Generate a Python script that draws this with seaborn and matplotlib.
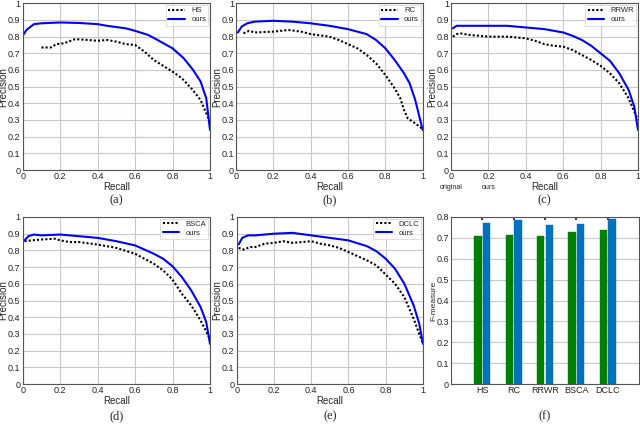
import numpy as np
import pandas as pd
import seaborn as sns
import matplotlib
matplotlib.use('Agg')
import matplotlib.pyplot as plt


# ---- PR curves ----
hs_r = [0.10, 0.15, 0.18, 0.22, 0.28, 0.35, 0.40, 0.45, 0.50, 0.55, 0.60, 0.65, 0.70, 0.75, 0.80, 0.85, 0.90, 0.95, 0.98, 1.00]
hs_p = [0.735, 0.735, 0.755, 0.76, 0.785, 0.78, 0.775, 0.78, 0.77, 0.755, 0.75, 0.71, 0.66, 0.625, 0.59, 0.55, 0.49, 0.42, 0.34, 0.29]
ours_a_r = [0.00, 0.02, 0.06, 0.10, 0.20, 0.30, 0.40, 0.45, 0.55, 0.60, 0.67, 0.72, 0.80, 0.86, 0.91, 0.95, 0.98, 1.00]
ours_a_p = [0.805, 0.84, 0.875, 0.88, 0.885, 0.882, 0.875, 0.865, 0.85, 0.835, 0.81, 0.78, 0.73, 0.67, 0.60, 0.53, 0.43, 0.24]

rc_r = [0.04, 0.07, 0.10, 0.20, 0.28, 0.35, 0.40, 0.50, 0.55, 0.60, 0.65, 0.70, 0.75, 0.80, 0.85, 0.88, 0.90, 0.92, 0.96, 1.00]
rc_p = [0.82, 0.835, 0.825, 0.83, 0.84, 0.83, 0.815, 0.80, 0.78, 0.755, 0.73, 0.69, 0.64, 0.57, 0.49, 0.43, 0.36, 0.31, 0.28, 0.245]
ours_b_r = [0.01, 0.03, 0.06, 0.10, 0.20, 0.30, 0.40, 0.50, 0.60, 0.70, 0.75, 0.80, 0.85, 0.90, 0.93, 0.96, 0.98, 1.00]
ours_b_p = [0.825, 0.86, 0.88, 0.89, 0.895, 0.89, 0.88, 0.865, 0.845, 0.815, 0.78, 0.73, 0.66, 0.58, 0.52, 0.42, 0.33, 0.24]

rrwr_r = [0.01, 0.03, 0.05, 0.10, 0.20, 0.30, 0.40, 0.45, 0.50, 0.55, 0.60, 0.65, 0.70, 0.75, 0.80, 0.85, 0.90, 0.95, 0.98, 1.00]
rrwr_p = [0.80, 0.815, 0.82, 0.81, 0.80, 0.80, 0.79, 0.775, 0.755, 0.745, 0.74, 0.72, 0.69, 0.66, 0.625, 0.58, 0.52, 0.43, 0.35, 0.30]
ours_c_r = [0.01, 0.03, 0.10, 0.20, 0.30, 0.40, 0.50, 0.60, 0.65, 0.70, 0.75, 0.80, 0.85, 0.90, 0.95, 0.98, 1.00]
ours_c_p = [0.85, 0.865, 0.865, 0.865, 0.865, 0.855, 0.845, 0.825, 0.805, 0.78, 0.745, 0.70, 0.655, 0.58, 0.48, 0.38, 0.24]

bsca_r = [0.01, 0.05, 0.10, 0.17, 0.20, 0.25, 0.30, 0.40, 0.50, 0.60, 0.70, 0.75, 0.80, 0.85, 0.90, 0.95, 1.00]
bsca_p = [0.855, 0.86, 0.865, 0.87, 0.86, 0.85, 0.85, 0.835, 0.815, 0.78, 0.72, 0.68, 0.625, 0.54, 0.47, 0.38, 0.27]
ours_d_r = [0.01, 0.03, 0.06, 0.10, 0.20, 0.30, 0.40, 0.50, 0.60, 0.70, 0.75, 0.80, 0.85, 0.90, 0.95, 0.98, 1.00]
ours_d_p = [0.86, 0.885, 0.895, 0.89, 0.895, 0.885, 0.875, 0.855, 0.83, 0.78, 0.75, 0.705, 0.64, 0.56, 0.46, 0.37, 0.24]

dclc_r = [0.01, 0.04, 0.07, 0.10, 0.15, 0.20, 0.25, 0.30, 0.40, 0.45, 0.50, 0.55, 0.60, 0.65, 0.70, 0.75, 0.80, 0.85, 0.90, 0.95, 1.00]
dclc_p = [0.815, 0.805, 0.82, 0.82, 0.84, 0.845, 0.855, 0.845, 0.855, 0.84, 0.83, 0.815, 0.79, 0.765, 0.74, 0.71, 0.655, 0.60, 0.52, 0.39, 0.24]
ours_e_r = [0.01, 0.03, 0.06, 0.10, 0.20, 0.30, 0.40, 0.50, 0.60, 0.70, 0.75, 0.80, 0.85, 0.90, 0.95, 0.98, 1.00]
ours_e_p = [0.835, 0.875, 0.89, 0.89, 0.90, 0.905, 0.89, 0.875, 0.86, 0.825, 0.795, 0.75, 0.69, 0.60, 0.47, 0.36, 0.24]

# ---- F-measure bars ----
methods = ['HS', 'RC', 'RRWR', 'BSCA', 'DCLC']
f_original = [0.71, 0.715, 0.71, 0.73, 0.737]
f_ours = [0.77, 0.785, 0.76, 0.765, 0.79]

captions = ['(a)', '(b)', '(c)', '(d)', '(e)', '(f)']


def pr_panel(ax, base_r, base_p, base_name, ours_r, ours_p):
    df = pd.concat([
        pd.DataFrame({'Recall': base_r, 'Precision': base_p, 'method': base_name}),
        pd.DataFrame({'Recall': ours_r, 'Precision': ours_p, 'method': 'ours'}),
    ])
    sns.lineplot(data=df, x='Recall', y='Precision', hue='method', style='method',
                 palette={base_name: 'black', 'ours': '#0000ff'},
                 dashes={base_name: (1, 1), 'ours': ''},
                 estimator=None, sort=False, lw=1.5, ax=ax)
    ax.set_xlim(0, 1)
    ax.set_ylim(0, 1)
    ax.set_xticks(np.arange(0, 1.01, 0.2))
    ax.set_xticklabels(['0', '0.2', '0.4', '0.6', '0.8', '1'])
    ax.set_yticks(np.arange(0, 1.01, 0.1))
    ax.set_yticklabels(['0'] + ['%.1f' % v for v in np.arange(0.1, 0.95, 0.1)] + ['1'])
    ax.grid(True, color='#c8c8c8', lw=0.8)
    leg = ax.legend(loc='upper right', fontsize=5.5, frameon=True, fancybox=False,
                    handlelength=2.2, borderpad=0.3, labelspacing=0.2, borderaxespad=0.2)
    leg.get_frame().set_edgecolor('#d0d0d0')
    leg.get_frame().set_linewidth(0.6)


def style_axis(ax):
    ax.tick_params(direction='in', length=2.5, labelsize=6.5, pad=1.5, colors='#222222')
    ax.xaxis.label.set_size(7)
    ax.yaxis.label.set_size(7)
    ax.xaxis.labelpad = 1
    ax.yaxis.set_label_coords(-0.075, 0.5)
    for s in ax.spines.values():
        s.set_color('#555555')
        s.set_linewidth(0.8)


def main():
    sns.set_theme(style='white')
    plt.rcParams['font.family'] = ['Liberation Sans', 'DejaVu Sans']

    fig = plt.figure(figsize=(6.4, 4.24), dpi=100)

    W, H = 640.0, 424.0
    boxes = [
        (22.7, 3.3, 210, 170), (236, 3.3, 422.7, 170), (451, 3.3, 638, 170),
        (22.7, 217, 210, 384), (236.7, 217, 423, 384), (451, 217, 639, 384),
    ]
    axes = []
    for (x0, y0, x1, y1) in boxes:
        axes.append(fig.add_axes([x0 / W, 1 - y1 / H, (x1 - x0) / W, (y1 - y0) / H]))

    pr_panel(axes[0], hs_r, hs_p, 'HS', ours_a_r, ours_a_p)
    pr_panel(axes[1], rc_r, rc_p, 'RC', ours_b_r, ours_b_p)
    pr_panel(axes[2], rrwr_r, rrwr_p, 'RRWR', ours_c_r, ours_c_p)
    pr_panel(axes[3], bsca_r, bsca_p, 'BSCA', ours_d_r, ours_d_p)
    pr_panel(axes[4], dclc_r, dclc_p, 'DCLC', ours_e_r, ours_e_p)

    # F-measure bar panel
    ax = axes[5]
    pos = np.arange(1, len(methods) + 1)
    bar_df = pd.DataFrame({'pos': np.concatenate([pos - 0.14, pos + 0.14]),
                           'F': f_original + f_ours,
                           'kind': ['original'] * len(methods) + ['ours'] * len(methods)})
    for kind, color in [('original', '#007f00'), ('ours', '#0072bd')]:
        sub = bar_df[bar_df['kind'] == kind]
        ax.bar(sub['pos'], sub['F'], width=0.24, color=color, edgecolor=color, lw=0.3, zorder=3)
    ax.set_xlim(0, 6)
    ax.set_ylim(0, 0.8)
    ax.set_xticks(pos)
    ax.set_xticklabels(methods)
    ax.set_yticks(np.arange(0, 0.81, 0.1))
    ax.set_yticklabels(['0'] + ['%.1f' % v for v in np.arange(0.1, 0.85, 0.1)])
    ax.yaxis.grid(True, color='#c8c8c8', lw=0.8)
    ax.set_ylabel('F-measure', fontsize=6)
    ax.tick_params(top=True)

    for a in axes:
        style_axis(a)
    axes[5].yaxis.label.set_size(6)

    # stray legend words under panel (c)
    axes[2].text(0.0, -0.085, 'original', transform=axes[2].transAxes, fontsize=5,
                 ha='center', va='top', color='#222222')
    axes[2].text(0.2, -0.085, 'ours', transform=axes[2].transAxes, fontsize=5,
                 ha='center', va='top', color='#222222')

    cap_y = [200, 200, 200, 416, 416, 416]
    for a, cap, cy in zip(axes, captions, cap_y):
        bb = a.get_position()
        fig.text(bb.x0 + bb.width / 2, 1 - cy / H, cap, ha='center', va='center',
                 fontsize=9, family='Liberation Serif')

    fig.savefig('out.png', dpi=100)


if __name__ == '__main__':
    main()
